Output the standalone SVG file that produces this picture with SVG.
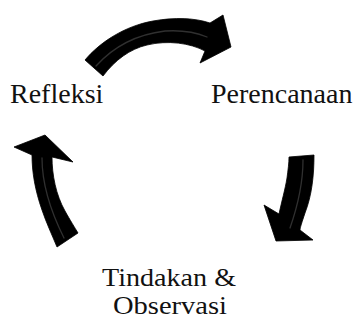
<svg xmlns="http://www.w3.org/2000/svg" width="363" height="320" viewBox="0 0 363 320">
<style>
.lbl{font-family:"Liberation Serif","Times New Roman",serif;font-size:28px;fill:#111}
.sm{font-size:25px}
.arr{fill:#000;stroke:#000;stroke-width:0.8;stroke-linejoin:round}
.hl{fill:none;stroke:#3c3c3c;stroke-width:1.3;stroke-linecap:round;opacity:0.8}
</style>
<rect width="363" height="320" fill="#fff"/>
<g id="connectors">
<g id="arrow-top">
<path class="arr" d="M85,60 C100,42 125,26 153,21 C175,17 195,18 210,23 L223,15 L231,47 L200,63 L205,51 C190,43 168,40 147,45 C130,49 115,60 103,76 Z"/>
<path class="hl" d="M96,66 C115,45 140,34 165,31 C180,30 195,32 207,37"/>
</g>
<g id="arrow-right">
<path class="arr" d="M289,157 L314,155 C314,175 312,195 305,213 C302,222 300,228 300,230 L313,240 L276,241 L264,205 L279,214 C282,200 285,190 287,178 C288,170 289,163 289,157 Z"/>
<path class="hl" d="M303,160 C303,185 298,205 290,228"/>
</g>
<g id="arrow-left">
<path class="arr" d="M45,135 L73,162 L52,157 C52,175 56,195 65,211 C70,220 75,228 78,233 L57,247 C52,235 46,222 42,210 C35,190 32,172 32,155 L14,147 Z"/>
<path class="hl" d="M42,158 C42,185 50,210 64,238"/>
</g>
</g>
<g id="node-perencanaan"><text class="lbl" x="211" y="103">Perencanaan</text></g>
<g id="node-tindakan"><text class="lbl sm" x="102" y="286" textLength="134" lengthAdjust="spacingAndGlyphs">Tindakan &amp;</text><text class="lbl sm" x="113" y="314" textLength="114" lengthAdjust="spacingAndGlyphs">Observasi</text></g>
<g id="node-refleksi"><text class="lbl" x="10" y="103">Refleksi</text></g>
</svg>
